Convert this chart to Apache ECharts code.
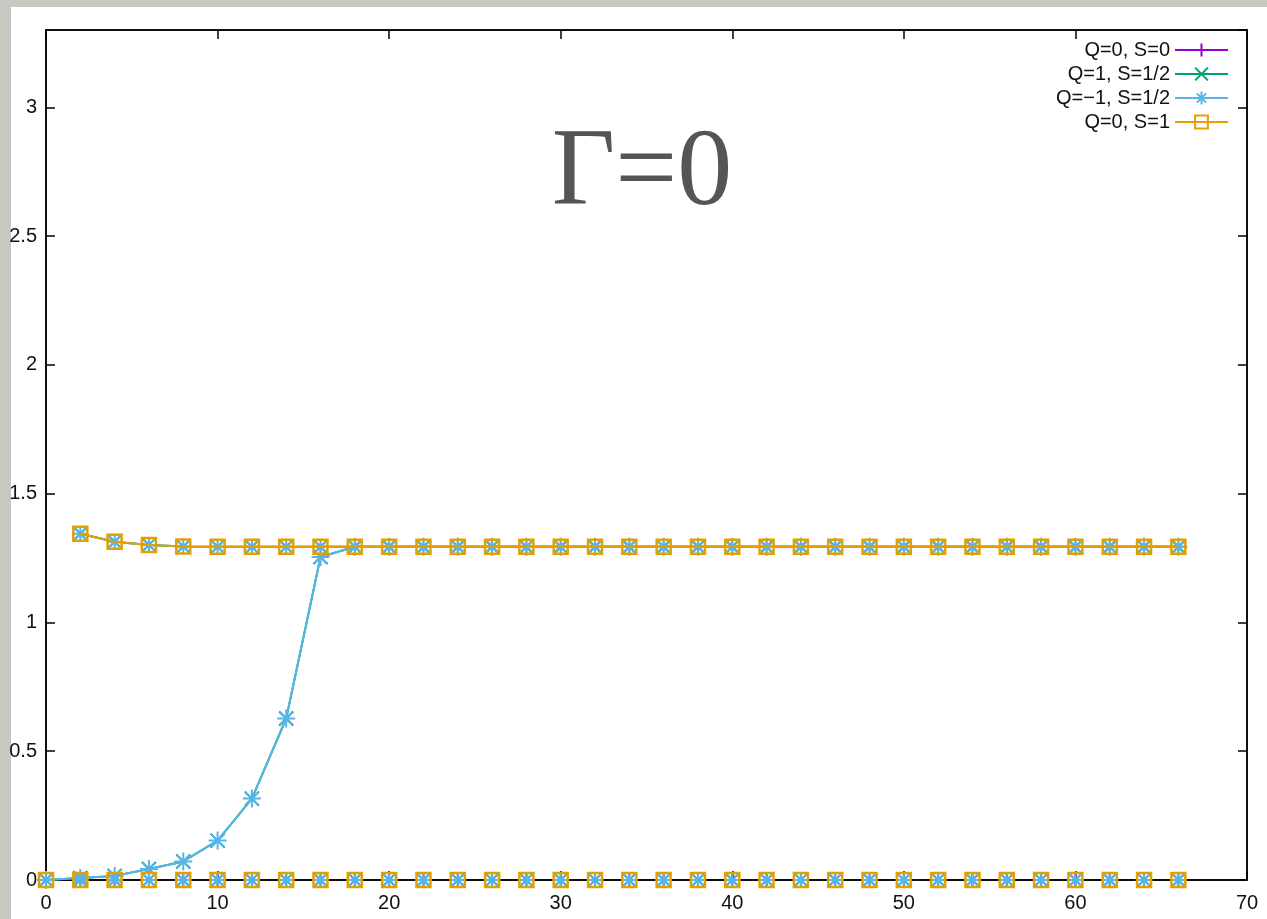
<!DOCTYPE html>
<html>
<head>
<meta charset="utf-8">
<script src="https://cdn.jsdelivr.net/npm/echarts@6/dist/echarts.min.js"></script>
<style>
html,body{margin:0;padding:0;width:1267px;height:919px;overflow:hidden;background:#c9c8c0;}
#paper{position:absolute;left:11px;top:7px;width:1256px;height:912px;background:#ffffff;}
#chart{position:absolute;left:0;top:0;width:1267px;height:919px;}
</style>
</head>
<body>
<div id="paper"></div>
<div id="chart"></div>
<script>
// x values (even steps)
const xs = [0,2,4,6,8,10,12,14,16,18,20,22,24,26,28,30,32,34,36,38,40,42,44,46,48,50,52,54,56,58,60,62,64,66];
// rising branch (Q=±1, S=1/2), x = 0..66
const riseBranch = [0,0.008,0.016,0.043,0.072,0.153,0.316,0.627,1.254,1.294,1.294,1.294,1.294,1.294,1.294,1.294,1.294,1.294,1.294,1.294,1.294,1.294,1.294,1.294,1.294,1.294,1.294,1.294,1.294,1.294,1.294,1.294,1.294,1.294];
// upper branch, x = 2..66
const upperX = [2,4,6,8,10,12,14,16,18,20,22,24,26,28,30,32,34,36,38,40,42,44,46,48,50,52,54,56,58,60,62,64,66];
const upperBranch = [1.344,1.313,1.301,1.295,1.294,1.294,1.294,1.294,1.294,1.294,1.294,1.294,1.294,1.294,1.294,1.294,1.294,1.294,1.294,1.294,1.294,1.294,1.294,1.294,1.294,1.294,1.294,1.294,1.294,1.294,1.294,1.294,1.294];
// zero branch, x = 0..66
const zeroBranch = [0,0,0,0,0,0,0,0,0,0,0,0,0,0,0,0,0,0,0,0,0,0,0,0,0,0,0,0,0,0,0,0,0,0];
const seriesNames = ['Q=0, S=0','Q=1, S=1/2','Q=−1, S=1/2','Q=0, S=1'];
const seriesColors = ['#9400d3','#009e73','#56b4e9','#e69f00'];
const xTicks = [0,10,20,30,40,50,60,70];
const yTicks = [0,0.5,1,1.5,2,2.5,3];

const pair = (xa, ya) => xa.map((x,i)=>[x, ya[i]]);

const symPlus = 'path://M0,5L10,5M5,0L5,10';
const symCross = 'path://M0,0L10,10M10,0L0,10';
const symStar = 'path://M5,0L5,10M0,5L10,5M1.4,1.4L8.6,8.6M8.6,1.4L1.4,8.6';

function mk(idx, data, symbol, size, z, lineW, bw){
  const c = seriesColors[idx];
  return {
    name: seriesNames[idx], type:'line', data: data, clip:false,
    symbol: symbol, symbolSize: size, showAllSymbol:true,
    lineStyle:{color:c, width:lineW, opacity: lineW > 0 ? 1 : 0},
    itemStyle:{color:'transparent', borderColor:c, borderWidth:bw},
    emphasis:{disabled:true}, z: z, animation:false
  };
}

const series = [
  mk(0, pair(xs, zeroBranch), symPlus, 16, 2, 0, 2),
  mk(1, pair(xs, riseBranch), symCross, 14, 3, 2, 2),
  mk(1, pair(upperX, upperBranch), symCross, 14, 3, 2, 2),
  mk(1, pair(xs, zeroBranch), symCross, 14, 3, 0, 2),
  mk(2, pair(xs, riseBranch), symStar, 18, 4, 2, 2),
  mk(2, pair(upperX, upperBranch), symStar, 16, 4, 2, 2),
  mk(2, pair(xs, zeroBranch), symStar, 16, 4, 0, 2),
  mk(3, pair(upperX, upperBranch), 'rect', 14, 5, 2, 2.5),
  mk(3, pair(xs, zeroBranch), 'rect', 14, 5, 0, 2.5)
];

const axisCommon = {
  axisLine:{show:true, onZero:false, lineStyle:{color:'#000', width:1.5}},
  axisTick:{show:true, inside:true, length:9, lineStyle:{color:'#000', width:1.5}},
  splitLine:{show:false}
};

const legendData = seriesNames.map((n,i)=>({
  name:n,
  lineStyle:{color:seriesColors[i], width:2, opacity:1},
  itemStyle:{color:'transparent', borderColor:seriesColors[i], borderWidth:2}
}));

const chart = echarts.init(document.getElementById('chart'), null, {renderer:'canvas'});
chart.setOption({
  animation:false,
  backgroundColor:'transparent',
  grid:{left:46, top:30, right:20, bottom:39, show:true, borderColor:'#000', borderWidth:1.5, containLabel:false},
  legend:{
    right:33, top:35, orient:'vertical', align:'right',
    itemWidth:53, itemHeight:16, itemGap:4,
    textStyle:{fontFamily:'Liberation Sans', fontSize:20, color:'#111', padding:[0,0,0,0]},
    data: legendData
  },
  graphic:[{
    type:'text', x:642, y:175, z:10,
    style:{text:'Γ=0', font:'110px "Liberation Serif"', fill:'#555555', textAlign:'center', textVerticalAlign:'middle'}
  }],
  xAxis:[
    Object.assign({type:'value', min:xTicks[0], max:xTicks[xTicks.length-1], interval:10, position:'bottom',
      axisLabel:{margin:13, fontFamily:'Liberation Sans', fontSize:20, color:'#111'}}, axisCommon),
    Object.assign({type:'value', min:xTicks[0], max:xTicks[xTicks.length-1], interval:10, position:'top',
      axisLabel:{show:false}}, axisCommon)
  ],
  yAxis:[
    Object.assign({type:'value', min:yTicks[0], max:3.3, interval:0.5, position:'left',
      axisLabel:{margin:9, showMaxLabel:false, fontFamily:'Liberation Sans', fontSize:20, color:'#111'}}, axisCommon),
    Object.assign({type:'value', min:yTicks[0], max:3.3, interval:0.5, position:'right',
      axisLabel:{show:false}}, axisCommon)
  ],
  series: series
});
</script>
</body>
</html>
